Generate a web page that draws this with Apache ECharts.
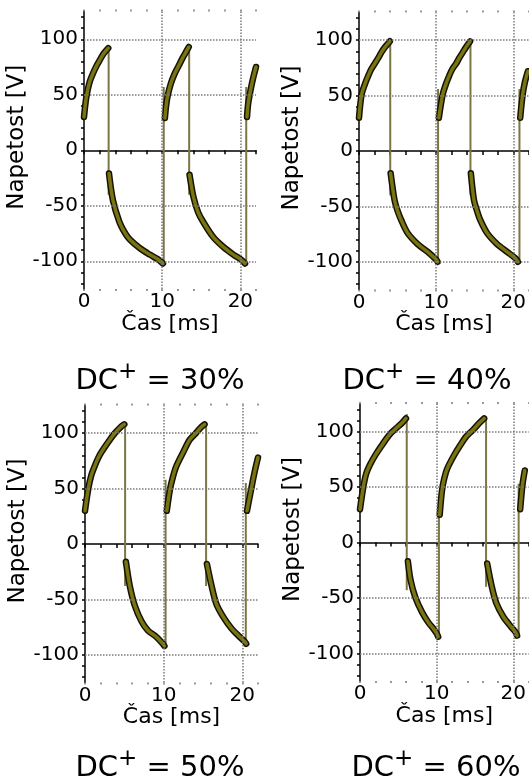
<!DOCTYPE html>
<html>
<head>
<meta charset="utf-8">
<script src="https://cdn.jsdelivr.net/npm/echarts@6/dist/echarts.min.js"></script>
<style>
  html, body { margin: 0; padding: 0; background: #fff; }
  #chart { width: 529px; height: 780px; }
</style>
</head>
<body>
<div id="chart"></div>
<script>
const FONT = '"DejaVu Sans", sans-serif';
const EDGE = "#141405";
const BAND = "#7a7312";
const JUMP = "#7b7645";
const DOTS = "#7a7a7a";

// axes
const X_MIN = 0, X_MAX = 22;
const Y_MIN = -125, Y_MAX = 125;
const X_LABELS = [0, 10, 20];
const X_TICKS = [0, 2, 4, 6, 8, 10, 12, 14, 16, 18, 20, 22];
const Y_LABELS = [-100, -50, 0, 50, 100];
const Y_TICKS = [-120, -110, -100, -90, -80, -70, -60, -50, -40, -30, -20, -10,
  0, 10, 20, 30, 40, 50, 60, 70, 80, 90, 100, 110, 120];
const GRID_X = [10, 20];
const GRID_Y = [-100, -50, 50, 100];

// DC+ = 30%  [t ms, U V]
const rise30a = [[0, 30], [0.3, 48], [0.7, 61], [1.2, 70], [1.6, 76], [2.0, 81], [2.5, 87], [3.1, 92]];
const fall30a = [[3.2, -21], [3.7, -45], [4.5, -64], [5.2, -74], [5.8, -80], [7.1, -88], [8.4, -94], [9.4, -98], [10.1, -102]];
const rise30b = [[10.35, 29], [10.5, 40], [10.7, 49], [11.1, 60], [11.6, 69], [12.1, 76], [12.6, 83], [13.0, 88], [13.4, 93]];
const fall30b = [[13.5, -22], [14.0, -42], [14.6, -56], [15.2, -64], [16.5, -78], [17.8, -87], [19.1, -94], [20.0, -98], [20.6, -102]];
const rise30c = [[20.85, 30], [21.0, 42], [21.3, 54], [21.6, 64], [22.0, 75]];
const jumps30 = [[3.15, 93, -40], [10.2, -104, 57], [13.45, 95, -40], [20.75, -104, 57]];

// DC+ = 40%
const rise40a = [[0, 30], [0.34, 51], [0.8, 61], [1.2, 68], [1.6, 74], [2.05, 79], [2.5, 84], [2.9, 89], [3.4, 94], [4.0, 99]];
const fall40a = [[4.1, -20], [4.6, -44], [5.0, -54], [5.45, -62], [6.3, -74], [7.6, -84], [8.9, -91], [10.0, -98], [10.2, -100]];
const rise40b = [[10.35, 30], [10.85, 51], [11.3, 61], [11.7, 68], [12.1, 74], [12.6, 79], [13.0, 84], [13.45, 89], [13.9, 94], [14.4, 99]];
const fall40b = [[14.5, -20], [14.9, -44], [15.3, -54], [15.7, -62], [16.6, -74], [17.9, -84], [19.2, -91], [20.3, -97], [20.6, -100]];
const rise40c = [[20.9, 30], [21.2, 50], [21.5, 62], [21.9, 72]];
const jumps40 = [[4.05, 100, -40], [10.25, -101, 56], [14.45, 100, -40], [20.8, -101, 56]];

// DC+ = 50%
const rise50a = [[0, 30], [0.42, 50], [0.8, 62], [1.27, 71], [1.7, 78], [2.1, 83], [2.95, 92], [3.8, 100], [4.6, 106], [5.0, 108]];
const fall50a = [[5.2, -16], [5.7, -38], [6.35, -56], [7.2, -70], [8.0, -78], [9.1, -84], [9.9, -90], [10.1, -92]];
const rise50b = [[10.4, 30], [10.8, 49], [11.2, 61], [11.6, 70], [12.5, 83], [13.3, 94], [14.1, 100], [14.7, 105], [15.2, 108]];
const fall50b = [[15.5, -18], [16.1, -38], [16.7, -54], [17.6, -66], [18.6, -76], [19.7, -84], [20.3, -88], [20.5, -90]];
const rise50c = [[20.6, 30], [21.2, 52], [21.6, 66], [22.0, 78]];
const jumps50 = [[5.1, 110, -38], [10.25, -93, 58], [15.4, 110, -38], [20.45, -91, 55]];

// DC+ = 60%
const rise60a = [[0, 30], [0.43, 50], [0.8, 62], [1.28, 70], [2.1, 80], [2.98, 89], [3.8, 97], [4.7, 103], [5.5, 108], [6.0, 112]];
const fall60a = [[6.25, -17], [6.6, -34], [7.2, -49], [8.1, -63], [8.9, -72], [9.6, -78], [10.0, -82], [10.2, -85]];
const rise60b = [[10.4, 25], [10.7, 47], [11.0, 58], [11.4, 67], [12.3, 79], [13.1, 88], [13.9, 96], [14.8, 102], [15.6, 108], [16.2, 112]];
const fall60b = [[16.6, -19], [17.2, -40], [17.8, -55], [18.7, -67], [19.7, -76], [20.3, -81], [20.5, -84]];
const rise60c = [[20.9, 30], [21.2, 52], [21.5, 65]];
const jumps60 = [[6.1, 116, -43], [10.3, -86, 23], [16.45, 114, -40], [20.7, -85, 53]];

const panels = [
  { dc: "30%", segs: [rise30a, fall30a, rise30b, fall30b, rise30c], jumps: jumps30,
    grid: { left: 84, top: 11.5, width: 172, height: 277.5 }, cap: [160, 361] },
  { dc: "40%", segs: [rise40a, fall40a, rise40b, fall40b, rise40c], jumps: jumps40,
    grid: { left: 359, top: 12.5, width: 171, height: 277 }, cap: [427, 361] },
  { dc: "50%", segs: [rise50a, fall50a, rise50b, fall50b, rise50c], jumps: jumps50,
    grid: { left: 85, top: 405.5, width: 173, height: 277 }, cap: [160, 748] },
  { dc: "60%", segs: [rise60a, fall60a, rise60b, fall60b, rise60c], jumps: jumps60,
    grid: { left: 360, top: 404, width: 172, height: 277 }, cap: [436, 748] },
];

const grid = [], xAxis = [], yAxis = [], series = [], graphic = [];

panels.forEach((p, i) => {
  grid.push(p.grid);
  const xi = xAxis.length;
  const base = { type: "value", gridIndex: i, min: X_MIN, max: X_MAX, splitLine: { show: false } };

  // bottom: labels, dotted border ticks, axis title
  xAxis.push({
    ...base, position: "bottom",
    axisLine: { show: false, onZero: false },
    axisTick: { show: true, customValues: X_TICKS, length: 2, lineStyle: { color: DOTS, width: 1.5 } },
    axisLabel: { customValues: X_LABELS, margin: 3, color: "#000", fontSize: 20, fontFamily: FONT },
    name: "Čas [ms]", nameLocation: "middle", nameGap: 24,
    nameTextStyle: { color: "#000", fontSize: 22, fontFamily: FONT },
  });
  // top: dotted border ticks
  xAxis.push({
    ...base, position: "top",
    axisLine: { show: false, onZero: false },
    axisTick: { show: true, customValues: X_TICKS, length: 2, lineStyle: { color: DOTS, width: 1.5 } },
    axisLabel: { show: false },
  });
  // zero line with 2 ms ticks
  xAxis.push({
    ...base, position: "bottom",
    axisLine: { show: true, onZero: true, lineStyle: { color: "#000", width: 1.5 } },
    axisTick: { show: true, customValues: X_TICKS, length: 4, lineStyle: { color: "#000", width: 1.5 } },
    axisLabel: { show: false },
  });

  yAxis.push({
    type: "value", gridIndex: i, min: Y_MIN, max: Y_MAX, position: "left",
    axisLine: { show: true, onZero: false, lineStyle: { color: "#000", width: 1.5 } },
    axisTick: { show: true, customValues: Y_TICKS, length: 3, lineStyle: { color: "#000", width: 1.5 } },
    axisLabel: { customValues: Y_LABELS, margin: 6, color: "#000", fontSize: 20, fontFamily: FONT },
    splitLine: { show: false },
    name: "Napetost [V]", nameLocation: "middle", nameGap: 40, nameRotate: 90,
    nameTextStyle: { color: "#000", fontSize: 23, fontFamily: FONT, padding: [0, 0, 0, 26] },
  });

  // dotted grid lines
  series.push({
    type: "line", xAxisIndex: xi, yAxisIndex: i, data: [], z: 1, silent: true,
    markLine: {
      symbol: "none", silent: true, animation: false, label: { show: false },
      lineStyle: { type: "dotted", color: DOTS, width: 1.5 },
      data: [...GRID_Y.map((v) => ({ yAxis: v })), ...GRID_X.map((v) => ({ xAxis: v }))],
    },
  });

  // switching edges
  p.jumps.forEach(([t, a, b]) => {
    series.push({
      type: "line", xAxisIndex: xi, yAxisIndex: i, z: 2, silent: true, symbol: "none",
      data: [[t, a], [t, b]], lineStyle: { color: JUMP, width: 2 },
    });
  });

  // voltage band: dark edge + olive core
  p.segs.forEach((seg) => {
    series.push({
      type: "line", xAxisIndex: xi, yAxisIndex: i, z: 3, silent: true, symbol: "none",
      smooth: 0.3, data: seg, lineStyle: { color: EDGE, width: 6.5, cap: "round", join: "round" },
    });
    series.push({
      type: "line", xAxisIndex: xi, yAxisIndex: i, z: 4, silent: true, symbol: "none",
      smooth: 0.3, data: seg, lineStyle: { color: BAND, width: 3.5, cap: "round", join: "round" },
    });
  });

  graphic.push({
    type: "text", x: p.cap[0], y: p.cap[1], silent: true,
    style: {
      text: "{b|DC}{s|+}{b| = " + p.dc + "}",
      align: "center", verticalAlign: "top",
      rich: {
        b: { fontSize: 29, fontFamily: FONT, fill: "#000", lineHeight: 40 },
        s: { fontSize: 23, fontFamily: FONT, fill: "#000", lineHeight: 22, verticalAlign: "top" },
      },
    },
  });
});

const chart = echarts.init(document.getElementById("chart"), null, { renderer: "canvas" });
chart.setOption({
  animation: false,
  backgroundColor: "#fff",
  grid, xAxis, yAxis, series, graphic,
});
</script>
</body>
</html>
